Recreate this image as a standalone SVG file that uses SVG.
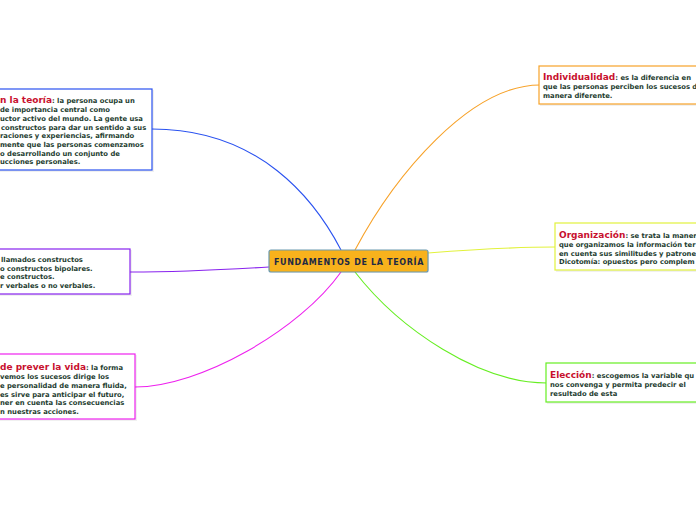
<svg xmlns="http://www.w3.org/2000/svg" width="696" height="520" viewBox="0 0 696 520">
<style>
.bg{fill:#ffffff}
.box{fill:#ffffff;stroke-width:1.2}
.sh{fill:#000;opacity:0.06}
.t{font-family:"DejaVu Sans",Verdana,sans-serif;font-weight:bold;font-size:6.8px;fill:#1e3d30}
.h{font-family:"DejaVu Sans",Verdana,sans-serif;font-weight:bold;font-size:9px;fill:#c8102e}
.c{fill:none;stroke-width:1.1}
</style>
<rect class="bg" x="0" y="0" width="696" height="520"/>
<g id="connectors">
<path class="c" stroke="#2a52f0" d="M341,250 C315,200 260,129 152,129"/>
<path class="c" stroke="#f7a229" d="M355,250 C395,175 470,85 540,85"/>
<path class="c" stroke="#e2f23c" d="M428,253 C480,249 520,247 555,247"/>
<path class="c" stroke="#66ee22" d="M355,272 C400,330 480,383 547,383"/>
<path class="c" stroke="#ee22ee" d="M341,272 C300,330 200,387 135,387"/>
<path class="c" stroke="#8822ee" d="M269,267 C220,270 170,272 130,272"/>
</g>
<g id="central">
<rect x="270" y="251" width="159" height="22" rx="2" class="sh"/>
<rect x="269" y="250" width="159" height="22" rx="2" fill="#f8b21c" stroke="#6a9ab0" stroke-width="1.2"/>
<text x="349" y="264.5" text-anchor="middle" font-family="DejaVu Sans,Verdana,sans-serif" font-weight="bold" font-size="8" letter-spacing="0.65" fill="#1f2a44">FUNDAMENTOS DE LA TEORÍA</text>
</g>
<g id="n-teoria">
<rect x="-5" y="90" width="159" height="82" class="sh"/>
<rect x="-5" y="89" width="157" height="81" class="box" stroke="#2a52f0"/>
<text y="103"><tspan x="0" class="h">n la teoría</tspan><tspan class="t">: la persona ocupa un</tspan></text>
<text class="t" x="0" y="112">de importancia central como</text>
<text class="t" x="0" y="121">uctor activo del mundo. La gente usa</text>
<text class="t" x="1" y="129.5">constructos para dar un sentido a sus</text>
<text class="t" x="0" y="138">raciones y experiencias, afirmando</text>
<text class="t" x="0" y="147">mente que las personas comenzamos</text>
<text class="t" x="0" y="155.5">o desarrollando un conjunto de</text>
<text class="t" x="0" y="164">ucciones personales.</text>
</g>
<g id="n-constructos">
<rect x="-5" y="250" width="137" height="46" class="sh"/>
<rect x="-5" y="249" width="135" height="45" class="box" stroke="#8822ee"/>
<text class="t" x="1" y="262">llamados constructos</text>
<text class="t" x="0" y="270.5">o constructos bipolares.</text>
<text class="t" x="0" y="279">e constructos.</text>
<text class="t" x="0" y="287.5">r verbales o no verbales.</text>
</g>
<g id="n-prever">
<rect x="-5" y="355" width="142" height="66" class="sh"/>
<rect x="-5" y="354" width="140" height="65" class="box" stroke="#ee22ee"/>
<text y="370"><tspan x="0" class="h">de prever la vida</tspan><tspan class="t">: la forma</tspan></text>
<text class="t" x="0" y="379">vemos los sucesos dirige los</text>
<text class="t" x="0" y="388">e personalidad de manera fluida,</text>
<text class="t" x="0" y="396.5">es sirve para anticipar el futuro,</text>
<text class="t" x="0" y="405">ner en cuenta las consecuencias</text>
<text class="t" x="0" y="413.5">n nuestras acciones.</text>
</g>
<g id="n-individualidad">
<rect x="540" y="67" width="170" height="39" class="sh"/>
<rect x="539" y="66" width="170" height="38" class="box" stroke="#f7a229"/>
<text y="80"><tspan x="543" class="h">Individualidad</tspan><tspan class="t">: es la diferencia en</tspan></text>
<text class="t" x="543" y="89">que las personas perciben los sucesos d</text>
<text class="t" x="543" y="97.5">manera diferente.</text>
</g>
<g id="n-organizacion">
<rect x="556" y="224" width="160" height="48" class="sh"/>
<rect x="555" y="223" width="160" height="47" class="box" stroke="#e2f23c"/>
<text y="238"><tspan x="559" class="h">Organización</tspan><tspan class="t">: se trata la maner</tspan></text>
<text class="t" x="559" y="247">que organizamos la información ter</text>
<text class="t" x="559" y="255.5">en cuenta sus similitudes y patrone</text>
<text class="t" x="559" y="264">Dicotomía: opuestos pero complem</text>
</g>
<g id="n-eleccion">
<rect x="547" y="364" width="170" height="40" class="sh"/>
<rect x="546" y="363" width="170" height="39" class="box" stroke="#66ee22"/>
<text y="378"><tspan x="550" class="h">Elección</tspan><tspan class="t">: escogemos la variable qu</tspan></text>
<text class="t" x="550" y="387">nos convenga y permita predecir el</text>
<text class="t" x="550" y="396">resultado de esta</text>
</g>
</svg>
